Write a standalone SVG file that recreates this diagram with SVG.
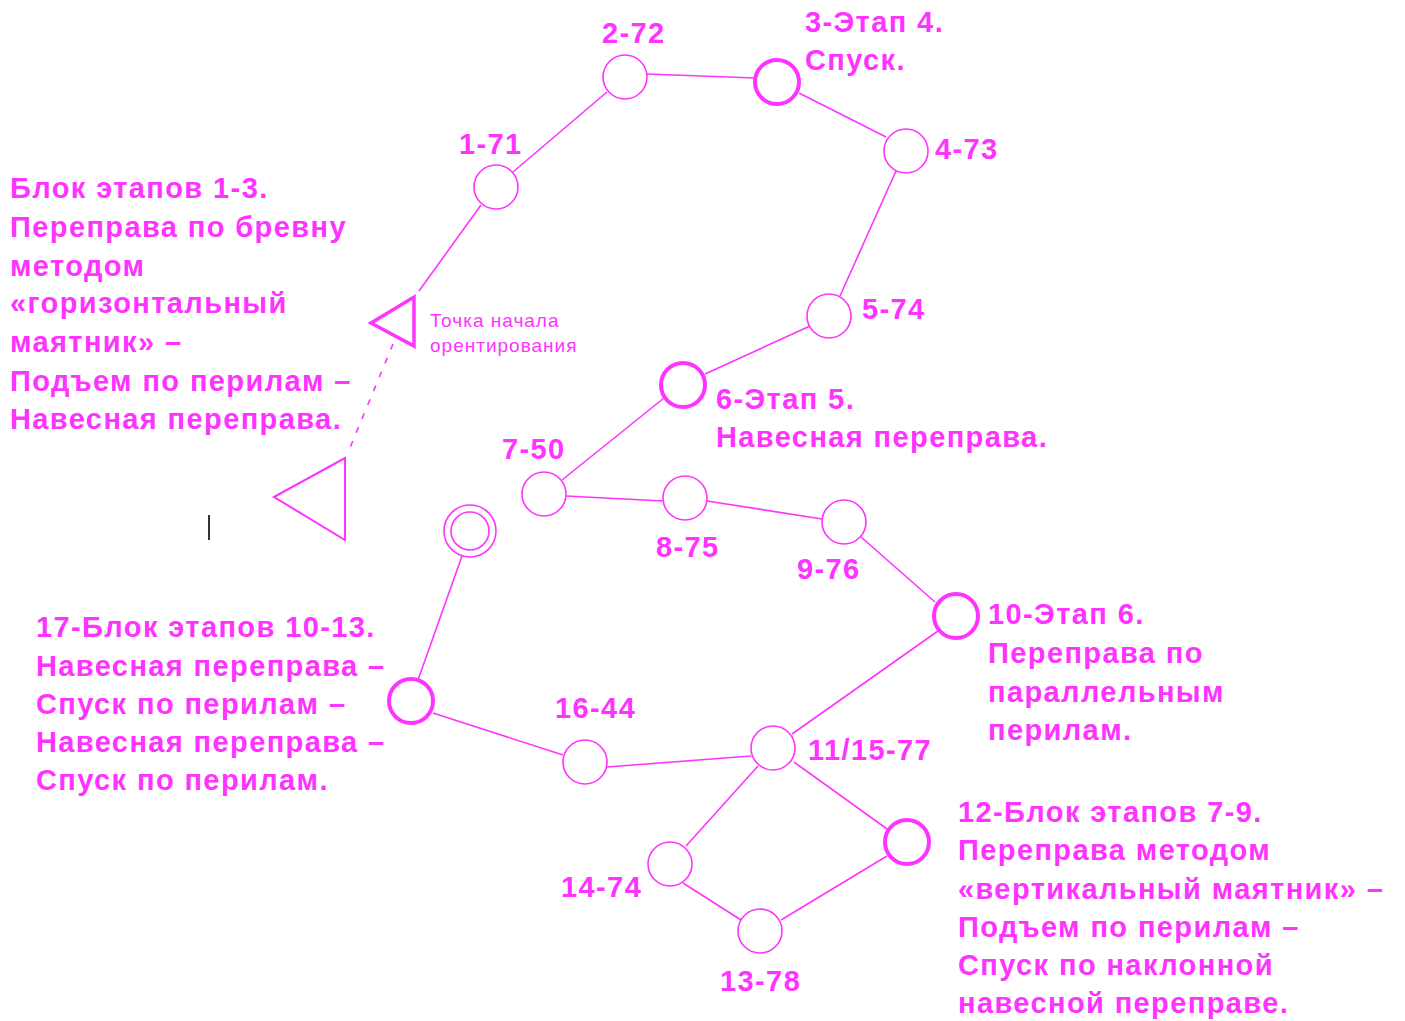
<svg xmlns="http://www.w3.org/2000/svg" width="1405" height="1021" viewBox="0 0 1405 1021">
<style>
.n{fill:none;stroke:#ff33ff;stroke-width:1.6}
.k{fill:none;stroke:#ff33ff;stroke-width:4}
.e{stroke:#ff33ff;stroke-width:1.6;fill:none}
.t{font-family:"Liberation Sans",Arial,sans-serif;font-weight:bold;font-size:29px;fill:#ff33ff;letter-spacing:1.4px}
.s{font-family:"Liberation Sans",Arial,sans-serif;font-size:19px;fill:#ff33ff;letter-spacing:1px}
</style>
<rect width="1405" height="1021" fill="#ffffff"/>
<g id="connectors">
<line class="e" x1="419" y1="291" x2="481" y2="205"/>
<line class="e" x1="513" y1="172" x2="607" y2="92"/>
<line class="e" x1="647" y1="74" x2="755" y2="78"/>
<line class="e" x1="799" y1="93" x2="886" y2="137"/>
<line class="e" x1="896" y1="171" x2="840" y2="296"/>
<line class="e" x1="810" y1="326" x2="705" y2="374"/>
<line class="e" x1="664" y1="398" x2="562" y2="480"/>
<line class="e" x1="566" y1="496" x2="663" y2="501"/>
<line class="e" x1="707" y1="501" x2="822" y2="519"/>
<line class="e" x1="861" y1="537" x2="935" y2="602"/>
<line class="e" x1="938" y1="631" x2="792" y2="734"/>
<line class="e" x1="751" y1="756" x2="607" y2="767"/>
<line class="e" x1="563" y1="755" x2="433" y2="713"/>
<line class="e" x1="418" y1="680" x2="462" y2="556"/>
<line class="e" x1="758" y1="766" x2="686" y2="846"/>
<line class="e" x1="794" y1="762" x2="887" y2="829"/>
<line class="e" x1="683" y1="883" x2="741" y2="920"/>
<line class="e" x1="781" y1="920" x2="887" y2="856"/>
<line class="e" x1="393" y1="344" x2="347" y2="455" stroke-dasharray="6,9"/>
</g>
<g id="start">
<polygon points="371,323 414,297 414,346" fill="none" stroke="#ff33ff" stroke-width="3.5"/>
<text class="s" x="430" y="327">Точка начала</text>
<text class="s" x="430" y="352">орентирования</text>
</g>
<g id="finish">
<polygon points="274,497 345,458 345,540" fill="none" stroke="#ff33ff" stroke-width="2"/>
</g>
<line x1="209" y1="515" x2="209" y2="540" stroke="#333333" stroke-width="2"/>
<g id="block1-3">
<text class="t" x="10" y="198">Блок этапов 1-3.</text>
<text class="t" x="10" y="237">Переправа по бревну</text>
<text class="t" x="10" y="276">методом</text>
<text class="t" x="10" y="313">«горизонтальный</text>
<text class="t" x="10" y="352">маятник» –</text>
<text class="t" x="10" y="391">Подъем по перилам –</text>
<text class="t" x="10" y="429">Навесная переправа.</text>
</g>
<g id="n1"><circle class="n" cx="496" cy="187" r="22"/><text class="t" x="459" y="154">1-71</text></g>
<g id="n2"><circle class="n" cx="625" cy="77" r="22"/><text class="t" x="602" y="43">2-72</text></g>
<g id="n3"><circle class="k" cx="777" cy="82" r="22"/><text class="t" x="805" y="32">3-Этап 4.</text><text class="t" x="805" y="70">Спуск.</text></g>
<g id="n4"><circle class="n" cx="906" cy="151" r="22"/><text class="t" x="935" y="159">4-73</text></g>
<g id="n5"><circle class="n" cx="829" cy="316" r="22"/><text class="t" x="862" y="319">5-74</text></g>
<g id="n6"><circle class="k" cx="683" cy="385" r="22"/><text class="t" x="716" y="409">6-Этап 5.</text><text class="t" x="716" y="447">Навесная переправа.</text></g>
<g id="n7"><circle class="n" cx="544" cy="494" r="22"/><text class="t" x="502" y="459">7-50</text></g>
<g id="n8"><circle class="n" cx="685" cy="498" r="22"/><text class="t" x="656" y="557">8-75</text></g>
<g id="n9"><circle class="n" cx="844" cy="522" r="22"/><text class="t" x="797" y="579">9-76</text></g>
<g id="n10"><circle class="k" cx="956" cy="616" r="22"/><text class="t" x="988" y="624">10-Этап 6.</text><text class="t" x="988" y="663">Переправа по</text><text class="t" x="988" y="702">параллельным</text><text class="t" x="988" y="740">перилам.</text></g>
<g id="n11"><circle class="n" cx="773" cy="748" r="22"/><text class="t" x="808" y="760">11/15-77</text></g>
<g id="n12"><circle class="k" cx="907" cy="842" r="22"/><text class="t" x="958" y="822">12-Блок этапов 7-9.</text><text class="t" x="958" y="860">Переправа методом</text><text class="t" x="958" y="899">«вертикальный маятник» –</text><text class="t" x="958" y="937">Подъем по перилам –</text><text class="t" x="958" y="975">Спуск по наклонной</text><text class="t" x="958" y="1013">навесной переправе.</text></g>
<g id="n13"><circle class="n" cx="760" cy="931" r="22"/><text class="t" x="720" y="991">13-78</text></g>
<g id="n14"><circle class="n" cx="670" cy="864" r="22"/><text class="t" x="561" y="897">14-74</text></g>
<g id="n16"><circle class="n" cx="585" cy="762" r="22"/><text class="t" x="555" y="718">16-44</text></g>
<g id="n17"><circle class="k" cx="411" cy="701" r="22"/><text class="t" x="36" y="637">17-Блок этапов 10-13.</text><text class="t" x="36" y="676">Навесная переправа –</text><text class="t" x="36" y="714">Спуск по перилам –</text><text class="t" x="36" y="752">Навесная переправа –</text><text class="t" x="36" y="790">Спуск по перилам.</text></g>
<g id="end"><circle class="n" cx="470" cy="531" r="26"/><circle class="n" cx="470" cy="531" r="19"/></g>
</svg>
